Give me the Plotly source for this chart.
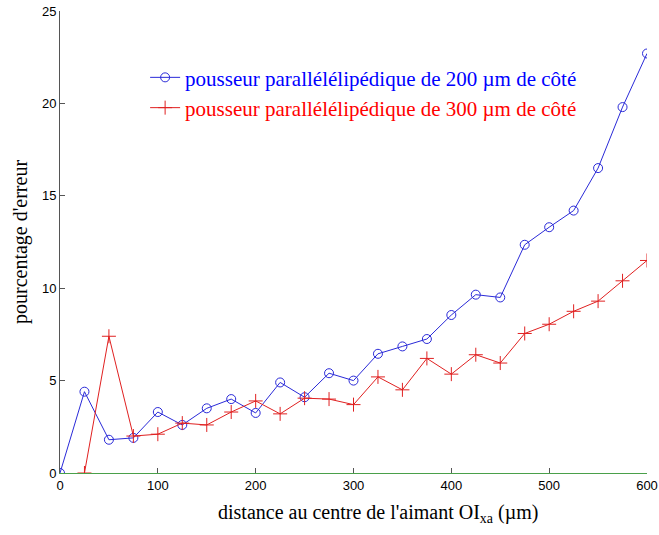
import plotly.graph_objects as go

x_blue = [0, 25, 50, 75, 100, 125, 150, 175, 200, 225, 250, 275, 300, 325, 350, 375,
          400, 425, 450, 475, 500, 525, 550, 575, 600]
y_blue = [0.0, 4.4, 1.8, 1.9, 3.3, 2.6, 3.5, 4.0, 3.25, 4.9, 4.1, 5.4, 5.0, 6.45, 6.85, 7.25,
          8.55, 9.65, 9.5, 12.35, 13.3, 14.2, 16.5, 19.8, 22.7]

x_red = [25, 50, 75, 100, 125, 150, 175, 200, 225, 250, 275, 300, 325, 350, 375,
         400, 425, 450, 475, 500, 525, 550, 575, 600]
y_red = [0.0, 7.4, 2.0, 2.1, 2.7, 2.6, 3.3, 3.9, 3.2, 4.05, 4.0, 3.7, 5.2, 4.5, 6.2,
         5.35, 6.4, 5.95, 7.55, 8.05, 8.75, 9.3, 10.4, 11.5]

name_blue = "pousseur parallélélipédique de 200 µm de côté"
name_red = "pousseur parallélélipédique de 300 µm de côté"

x_ticks = [0, 100, 200, 300, 400, 500, 600]
y_ticks = [0, 5, 10, 15, 20, 25]

x_title = "distance au centre de l'aimant OI<sub>xa</sub> (µm)"
y_title = "pourcentage d'erreur"

fig = go.Figure()
fig.add_trace(go.Scatter(
    x=x_blue, y=y_blue, mode="lines+markers",
    name='<span style="color:#0000ff">' + name_blue + '</span>',
    line=dict(color="#2a2ad8", width=1),
    marker=dict(symbol="circle-open", size=9, color="#2a2ad8", line=dict(width=1)),
))
fig.add_trace(go.Scatter(
    x=x_red, y=y_red, mode="lines+markers",
    name='<span style="color:#ff0000">' + name_red + '</span>',
    line=dict(color="#e02020", width=1),
    marker=dict(symbol="cross-thin-open", size=10, color="#e02020", line=dict(width=1, color="#e02020")),
))

fig.update_layout(
    width=659, height=535,
    paper_bgcolor="white", plot_bgcolor="white",
    margin=dict(l=60, r=12, t=11, b=62, autoexpand=False),
    showlegend=True,
    legend=dict(
        x=0.145, y=0.9, xanchor="left", yanchor="top",
        bgcolor="rgba(0,0,0,0)",
        font=dict(family="Liberation Serif", size=21, color="black"),
        tracegroupgap=0, itemwidth=30,
    ),
    font=dict(family="Liberation Sans", size=13, color="black"),
    xaxis=dict(
        range=[0, 600], tickvals=x_ticks, ticktext=[str(v) for v in x_ticks],
        ticks="inside", ticklen=5, tickcolor="#555", showline=True, linecolor="#4aa04a",
        linewidth=1, showgrid=False, zeroline=False, mirror=False, automargin=False,
        tickfont=dict(family="Liberation Sans", size=13, color="black"),
    ),
    yaxis=dict(
        range=[0, 25], tickvals=y_ticks, ticktext=[str(v) for v in y_ticks],
        ticks="inside", ticklen=5, tickcolor="#555", showline=True, linecolor="#555",
        linewidth=1, showgrid=False, zeroline=False, automargin=False,
        title=dict(text=y_title,
                   font=dict(family="Liberation Serif", size=20, color="black"), standoff=8),
        tickfont=dict(family="Liberation Sans", size=13, color="black"),
    ),
    annotations=[dict(
        text=x_title, xref="paper", yref="paper", x=0.542, y=-0.088,
        xanchor="center", yanchor="middle", showarrow=False,
        font=dict(family="Liberation Serif", size=20, color="black"),
    )],
)

fig.write_html("out.html", config={"displayModeBar": False},
               post_script="document.body.style.margin='0';")
